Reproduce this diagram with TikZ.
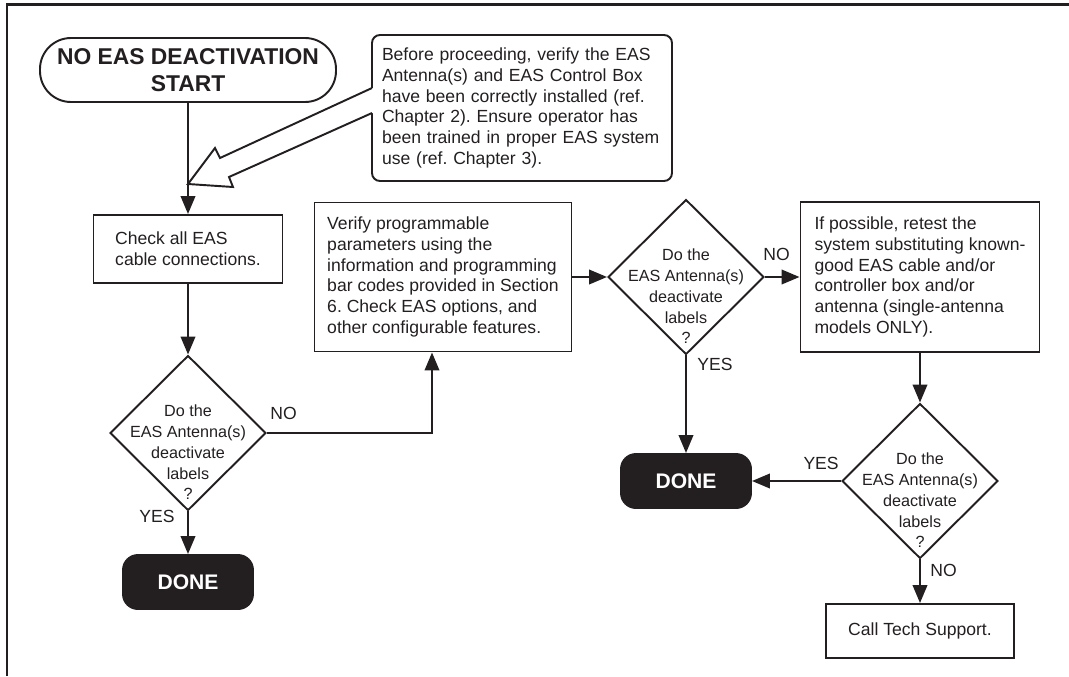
\documentclass[tikz,border=0pt]{standalone}
\usepackage{fontspec}
\setmainfont{Liberation Sans}
\usetikzlibrary{arrows.meta,positioning,shapes.geometric}
\definecolor{Ink}{HTML}{231F20}
\tikzset{
  >={Triangle[length=3.6mm,width=2.9mm]},
  base/.style={draw=Ink,line width=1.1pt,text=Ink,inner sep=0pt},
  term/.style={base,rounded corners=6.2mm,minimum width=59.2mm,minimum height=12.8mm,align=center,font=\fontsize{13}{15.4}\selectfont\bfseries},
  donebox/.style={base,fill=Ink,text=white,rounded corners=3mm,minimum width=26mm,minimum height=10.8mm,font=\fontsize{12}{14}\selectfont\bfseries},
  proc/.style={base,align=left,font=\fontsize{10}{11.8}\selectfont},
  note/.style={proc,rounded corners=1.6mm,text width=56mm,minimum width=60mm,minimum height=29.2mm},
  dec/.style={diamond,base,minimum width=31.2mm,minimum height=31mm},
  qtext/.style={align=center,inner sep=0pt,text=Ink,font=\fontsize{9.2}{11.8}\selectfont},
  flow/.style={->,draw=Ink,line width=1.3pt},
  lab/.style={inner sep=0pt,text=Ink,font=\fontsize{10}{12}\selectfont},
  frame/.style={draw=Ink,line width=1.4pt}
}
\newcommand{\deactq}{Do the\\EAS Antenna(s)\\deactivate\\labels\\?}
\frenchspacing

\begin{document}
\begin{tikzpicture}[x=0.2mm,y=-0.2mm]
  \useasboundingbox (0,0) rectangle (1069,676);
  \draw[frame] (7,676) -- (7,4.5) -- (1069,4.5);

  % top row
  \node[term] (start) at (188,70) {NO EAS DEACTIVATION\\START};
  \node[note] (note) at (522,108) {Before proceeding, verify the EAS\\Antenna(s) and EAS Control Box\\have been correctly installed (ref.\\Chapter 2). Ensure operator has\\been trained in proper EAS system\\use (ref. Chapter 3).};

  % left column
  \node[proc,minimum width=37.8mm,minimum height=13.6mm] (check) at (188,249) {Check all EAS\\cable connections.};
  \node[dec] (d1) at (188,433) {};
  \node[qtext] (d1q) at ([yshift=-3.9mm]d1) {\deactq};
  \node[donebox] (done1) at (188,582) {DONE};

  % middle and right
  \node[proc,minimum width=51.4mm,minimum height=29.8mm] (verify) at (443,277) {Verify programmable\\parameters using the\\information and programming\\bar codes provided in Section\\6. Check EAS options, and\\other configurable features.};
  \node[dec] (d2) at (686,277) {};
  \node[qtext] (d2q) at ([yshift=-3.9mm]d2) {\deactq};
  \node[proc,minimum width=47.8mm,minimum height=30mm] (retest) at (920,277) {If possible, retest the\\system substituting known-\\good EAS cable and/or\\controller box and/or\\antenna (single-antenna\\models ONLY).};
  \node[donebox] (done2) at (686,481) {DONE};
  \node[dec] (d3) at (920,481) {};
  \node[qtext] (d3q) at ([yshift=-3.9mm]d3) {\deactq};
  \node[proc,minimum width=37.6mm,minimum height=10.8mm] (call) at (920,631) {Call Tech Support.};

  % callout arrow from the note
  \fill[white] (375,88) -- (372,88) -- (220,158) -- (215,148) -- (188,184) -- (233,187) -- (229,177) -- (372,113) -- (375,113) -- cycle;
  \draw[draw=Ink,line width=1.1pt] (372,88) -- (220,158) -- (215,148) -- (188,184) -- (233,187) -- (229,177) -- (372,113);

  % connectors
  \draw[flow] (start) -- (check);
  \draw[flow] (check) -- (d1);
  \draw[flow] (d1) -- (done1);
  \draw[flow] (d1.east) -| ([xshift=-2.2mm]verify.south);
  \draw[flow] (verify) -- (d2);
  \draw[flow] (d2) -- (retest);
  \draw[flow] (d2) -- (done2);
  \draw[flow] (retest) -- (d3);
  \draw[flow] (d3) -- (done2);
  \draw[flow] (d3) -- (call);

  % answers
  \node[lab,above right=2.6mm and 0.6mm of d1.east] (d1no) {NO};
  \node[lab,below left=-0.4mm and 2.6mm of d1.south] (d1yes) {YES};
  \node[lab,above right=3.2mm and -0.4mm of d2.east] (d2no) {NO};
  \node[lab,below right=0.4mm and 2.2mm of d2.south] (d2yes) {YES};
  \node[lab,above left=2.2mm and 0.4mm of d3.west] (d3yes) {YES};
  \node[lab,below right=0.8mm and 2mm of d3.south] (d3no) {NO};
\end{tikzpicture}
\end{document}
